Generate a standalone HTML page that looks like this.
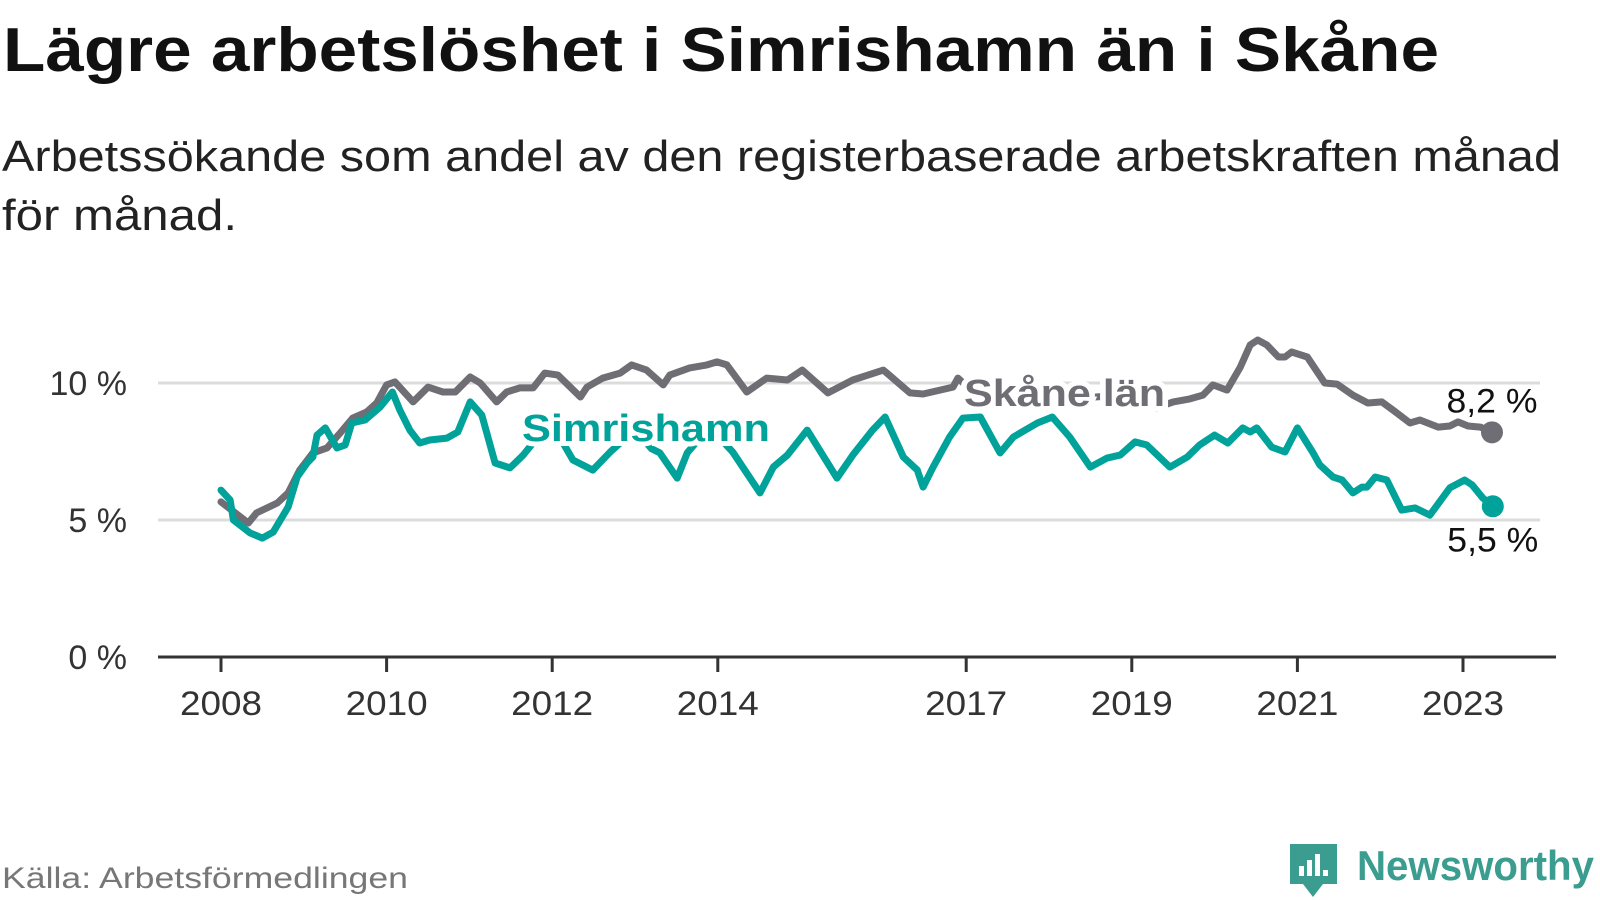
<!DOCTYPE html>
<html><head><meta charset="utf-8"><style>
html,body{margin:0;padding:0;background:#fff;}
svg{display:block;font-family:"Liberation Sans",sans-serif;}
</style></head><body>
<svg id="chart" width="1600" height="900" viewBox="0 0 1600 900" xmlns="http://www.w3.org/2000/svg">
<text x="3" y="71" font-size="62" font-weight="bold" fill="#111" textLength="1436" lengthAdjust="spacingAndGlyphs">Lägre arbetslöshet i Simrishamn än i Skåne</text>
<text x="2" y="171" font-size="44" fill="#222" textLength="1559" lengthAdjust="spacingAndGlyphs">Arbetssökande som andel av den registerbaserade arbetskraften månad</text>
<text x="2" y="230" font-size="44" fill="#222" textLength="235" lengthAdjust="spacingAndGlyphs">för månad.</text>
<g id="grid"></g>
<g id="axes"></g>
<g id="lines"></g>
<g id="labels"></g>
<text x="2" y="888" font-size="30" fill="#777" textLength="406" lengthAdjust="spacingAndGlyphs">Källa: Arbetsförmedlingen</text>
<g>
<path d="M1290 844 h47 v40 h-14 l-10 13 l-10 -13 h-13 z" fill="#3a9d8f"/>
<rect x="1299" y="866" width="5" height="10" fill="#fff"/><rect x="1307" y="860" width="5" height="16" fill="#fff"/><rect x="1315" y="854" width="5" height="22" fill="#fff"/><rect x="1323" y="870" width="5" height="6" fill="#fff"/>
<text x="1357" y="880" font-size="42" font-weight="bold" fill="#3a9d8f" textLength="237" lengthAdjust="spacingAndGlyphs">Newsworthy</text>
</g>
</svg>
<script>
const skaneDates=[2008.0,2008.33,2008.43,2008.68,2008.81,2008.95,2009.11,2009.28,2009.44,2009.59,2009.76,2009.88,2010.0,2010.1,2010.32,2010.5,2010.68,2010.83,2011.01,2011.13,2011.33,2011.45,2011.61,2011.77,2011.91,2012.07,2012.34,2012.42,2012.61,2012.82,2012.96,2013.14,2013.34,2013.42,2013.66,2013.87,2013.99,2014.11,2014.35,2014.59,2014.84,2015.02,2015.33,2015.63,2016.0,2016.32,2016.48,2016.84,2016.9,2017.0,2017.3,2017.6,2018.0,2018.3,2018.6,2019.0,2019.3,2019.5,2019.7,2019.86,2019.98,2020.15,2020.31,2020.43,2020.52,2020.63,2020.77,2020.85,2020.93,2021.12,2021.33,2021.48,2021.67,2021.85,2022.02,2022.2,2022.36,2022.48,2022.7,2022.84,2022.94,2023.06,2023.21,2023.35];
const skaneValues=[5.66,4.89,5.26,5.62,5.99,6.82,7.45,7.63,8.18,8.72,8.94,9.27,9.93,10.04,9.31,9.85,9.67,9.67,10.22,10.0,9.31,9.67,9.82,9.82,10.36,10.29,9.49,9.85,10.18,10.36,10.66,10.47,9.93,10.29,10.55,10.66,10.77,10.66,9.67,10.18,10.11,10.47,9.64,10.11,10.47,9.64,9.6,9.85,10.18,9.9,9.5,9.8,9.9,9.4,9.5,9.5,9.1,9.31,9.42,9.56,9.93,9.74,10.58,11.39,11.57,11.39,10.95,10.95,11.13,10.95,10.0,9.96,9.56,9.27,9.31,8.91,8.54,8.65,8.39,8.43,8.58,8.43,8.39,8.2];
const simDates=[2008.0,2008.11,2008.15,2008.35,2008.5,2008.63,2008.81,2008.92,2009.04,2009.11,2009.16,2009.26,2009.4,2009.5,2009.58,2009.74,2009.92,2010.07,2010.16,2010.28,2010.4,2010.52,2010.73,2010.86,2011.01,2011.15,2011.31,2011.49,2011.65,2011.9,2012.0,2012.25,2012.49,2012.7,2013.0,2013.2,2013.3,2013.51,2013.63,2013.9,2014.18,2014.51,2014.67,2014.84,2015.08,2015.44,2015.63,2015.87,2016.02,2016.24,2016.41,2016.48,2016.6,2016.8,2016.96,2017.17,2017.41,2017.57,2017.86,2018.04,2018.25,2018.5,2018.7,2018.86,2019.04,2019.18,2019.46,2019.67,2019.82,2020.0,2020.16,2020.34,2020.43,2020.51,2020.69,2020.85,2021.0,2021.19,2021.27,2021.43,2021.54,2021.67,2021.78,2021.84,2021.94,2022.08,2022.26,2022.42,2022.6,2022.84,2023.02,2023.11,2023.24,2023.36];
const simValues=[6.09,5.73,5.0,4.53,4.34,4.56,5.47,6.57,7.08,7.3,8.1,8.36,7.63,7.74,8.54,8.65,9.12,9.67,9.01,8.28,7.81,7.92,7.99,8.21,9.31,8.83,7.08,6.9,7.37,8.3,8.5,7.19,6.82,7.48,8.3,7.6,7.45,6.53,7.45,8.4,7.48,5.99,6.93,7.37,8.28,6.53,7.37,8.28,8.76,7.3,6.82,6.2,6.93,8.03,8.72,8.76,7.45,8.03,8.54,8.76,8.03,6.93,7.26,7.37,7.85,7.74,6.93,7.3,7.74,8.1,7.81,8.36,8.21,8.36,7.66,7.48,8.36,7.45,7.01,6.57,6.46,5.99,6.2,6.2,6.57,6.46,5.36,5.44,5.18,6.17,6.46,6.28,5.8,5.5];
const yTicks=[0,5,10];
const yTickLabels=["0 %","5 %","10 %"];
const xTicks=[2008,2010,2012,2014,2017,2019,2021,2023];
const xTickLabels=["2008","2010","2012","2014","2017","2019","2021","2023"];
const skaneEndLabel="8,2 %";
const simEndLabel="5,5 %";

const NS="http://www.w3.org/2000/svg";
const X=t=>221+(t-2008)*82.8;
const Y=v=>657-v*27.4;
function mk(tag,attrs,parent,txt){const e=document.createElementNS(NS,tag);for(const k in attrs)e.setAttribute(k,attrs[k]);if(txt!==undefined)e.textContent=txt;parent.appendChild(e);return e;}
const grid=document.getElementById('grid'),axes=document.getElementById('axes'),lines=document.getElementById('lines'),labels=document.getElementById('labels');
yTicks.forEach((v,i)=>{
  if(v>0){const g=mk('line',{x1:158,x2:1540,y1:Y(v),y2:Y(v),stroke:'#dcdcdc','stroke-width':3},grid);
  
  }
  const t=mk('text',{x:127,y:Y(v)+12,'font-size':34,fill:'#333','text-anchor':'end'},axes,yTickLabels[i]);
  
  
});
const ax=mk('line',{x1:158,x2:1556,y1:657,y2:657,stroke:'#333','stroke-width':3},axes);


xTicks.forEach((t,i)=>{
  const tk=mk('line',{x1:X(t),x2:X(t),y1:657,y2:672,stroke:'#333','stroke-width':3},axes);
  
  
  const lb=mk('text',{x:X(t),y:715,'font-size':34,fill:'#333','text-anchor':'middle',textLength:82,lengthAdjust:'spacingAndGlyphs'},axes,xTickLabels[i]);
  
  
});
function path(d,v){return d.map((t,i)=>(i?'L':'M')+X(t).toFixed(1)+' '+Y(v[i]).toFixed(1)).join(' ');}
const sk=mk('path',{d:path(skaneDates,skaneValues),fill:'none',stroke:'#6f6e75','stroke-width':7,'stroke-linejoin':'round','stroke-linecap':'round'},lines);


const sm=mk('path',{d:path(simDates,simValues),fill:'none',stroke:'#00a29a','stroke-width':7,'stroke-linejoin':'round','stroke-linecap':'round'},lines);


const n1=skaneDates.length-1,n2=simDates.length-1;
const d1=mk('circle',{cx:X(skaneDates[n1]),cy:Y(skaneValues[n1]),r:11,fill:'#6f6e75'},lines);


const d2=mk('circle',{cx:X(simDates[n2]),cy:Y(simValues[n2]),r:11,fill:'#00a29a'},lines);


const e1=mk('text',{x:X(skaneDates[n1]),y:Y(skaneValues[n1])-20,'font-size':34,fill:'#111','text-anchor':'middle',stroke:'#fff','stroke-width':6,'paint-order':'stroke',textLength:91,lengthAdjust:'spacingAndGlyphs'},labels,skaneEndLabel);


const e2=mk('text',{x:X(simDates[n2]),y:Y(simValues[n2])+45,'font-size':34,fill:'#111','text-anchor':'middle',stroke:'#fff','stroke-width':6,'paint-order':'stroke',textLength:91,lengthAdjust:'spacingAndGlyphs'},labels,simEndLabel);


const l1=mk('text',{x:522,y:441,'font-size':38,'font-weight':'bold',fill:'#00a29a',stroke:'#fff','stroke-width':10,'paint-order':'stroke',textLength:248,lengthAdjust:'spacingAndGlyphs'},labels,'Simrishamn');


const l2=mk('text',{x:964,y:406,'font-size':38,'font-weight':'bold',fill:'#6f6e75',stroke:'#fff','stroke-width':10,'paint-order':'stroke',textLength:201,lengthAdjust:'spacingAndGlyphs'},labels,'Skåne län');


</script>
</body></html>
